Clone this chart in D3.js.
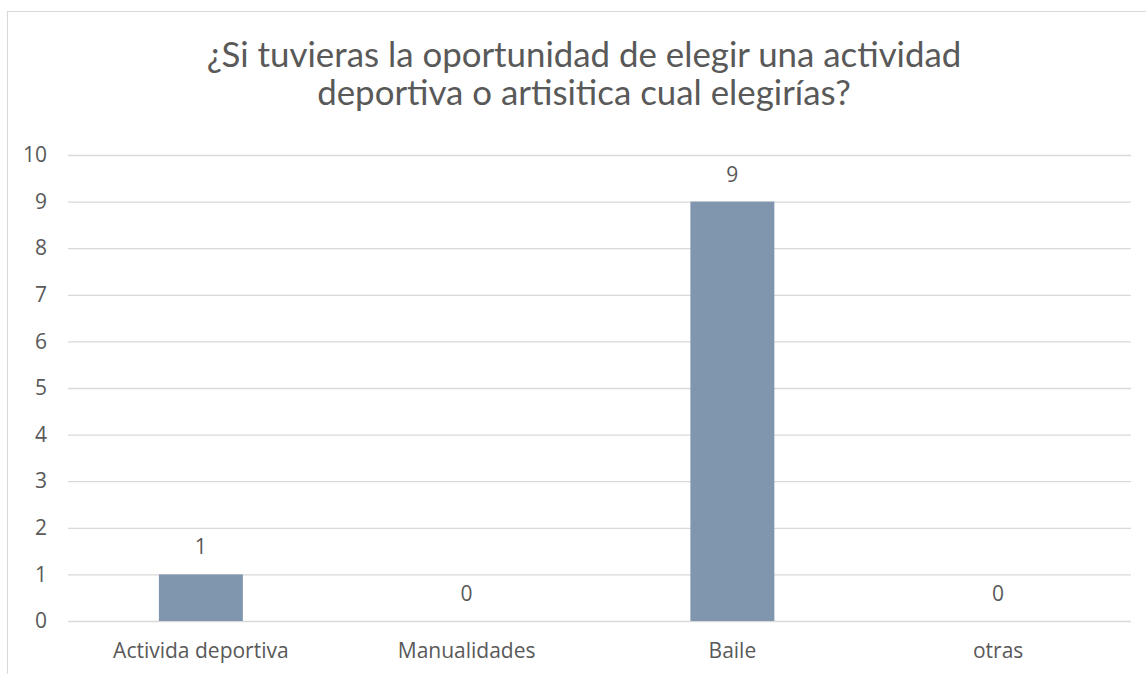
<!DOCTYPE html>
<meta charset="utf-8">
<script src="https://d3js.org/d3.v7.min.js"></script>
<style>
  body { margin: 0; background: #fff; }
  text { fill: #595959; }
</style>
<div id="chart"></div>
<script>

// data
var categories = ["Activida deportiva", "Manualidades", "Baile", "otras"];
var values = [1, 0, 9, 0];
var yTicks = [0, 1, 2, 3, 4, 5, 6, 7, 8, 9, 10];
var titleLines = ["¿Si tuvieras la oportunidad de elegir  una actividad", "deportiva o artisitica cual elegirías?"];

var W = 1146, H = 674;
var svg = d3.select("#chart").append("svg")
    .attr("width", W).attr("height", H);

// chart frame (top + left edge visible, rest cut off)
svg.append("rect").attr("x", 7.5).attr("y", 11.5)
    .attr("width", W + 20).attr("height", H + 20)
    .attr("fill", "white").attr("stroke", "#d9d9d9");

var x = d3.scaleBand().domain(categories).range([68, 1131]).padding(0);
var y = d3.scaleLinear().domain([0, 10]).range([621, 155]);
var barW = x.bandwidth() * 0.316;
var small = "21px";

// grid lines
svg.append("g")
    .attr("transform", "translate(68,0)")
    .call(d3.axisLeft(y).tickValues(yTicks).tickSize(-(1131 - 68)).tickFormat(""))
    .call(g => g.select(".domain").remove())
    .selectAll("line").attr("stroke", "#d9d9d9").attr("stroke-width", 1.3);

// y tick labels
svg.append("g")
    .attr("transform", "translate(47,0)")
    .call(d3.axisLeft(y).tickValues(yTicks).tickSize(0).tickPadding(0))
    .call(g => g.select(".domain").remove())
    .selectAll("text")
    .style("font-family", "Open Sans").style("font-size", small).style("fill", "#595959");

// bars
svg.append("g").selectAll("rect")
    .data(values)
    .join("rect")
    .attr("x", (d, i) => x(categories[i]) + x.bandwidth() / 2 - barW / 2)
    .attr("width", barW)
    .attr("y", d => y(d))
    .attr("height", d => y(0) - y(d))
    .attr("fill", "#8096af");

// value labels
svg.append("g").selectAll("text")
    .data(values)
    .join("text")
    .attr("x", (d, i) => x(categories[i]) + x.bandwidth() / 2)
    .attr("y", d => y(d) - 20)
    .attr("text-anchor", "middle")
    .style("font-family", "Open Sans").style("font-size", small)
    .text(d => d);

// category labels
svg.append("g")
    .attr("transform", "translate(0,621)")
    .call(d3.axisBottom(x).tickSize(0).tickPadding(22))
    .call(g => g.select(".domain").remove())
    .selectAll("text")
    .style("font-family", "Open Sans").style("font-size", small).style("fill", "#595959");

// title
var title = svg.append("g").selectAll("text")
    .data(titleLines)
    .join("text")
    .attr("x", 584)
    .attr("y", (d, i) => 67 + i * 38)
    .attr("text-anchor", "middle")
    .style("font-family", "Lato").style("font-size", "28px")
    .text(d => d);

// fit first line to ~755px as in the original
var w0 = title.node().getComputedTextLength();
title.style("font-size", (28 * 755 / w0) + "px");

</script>
